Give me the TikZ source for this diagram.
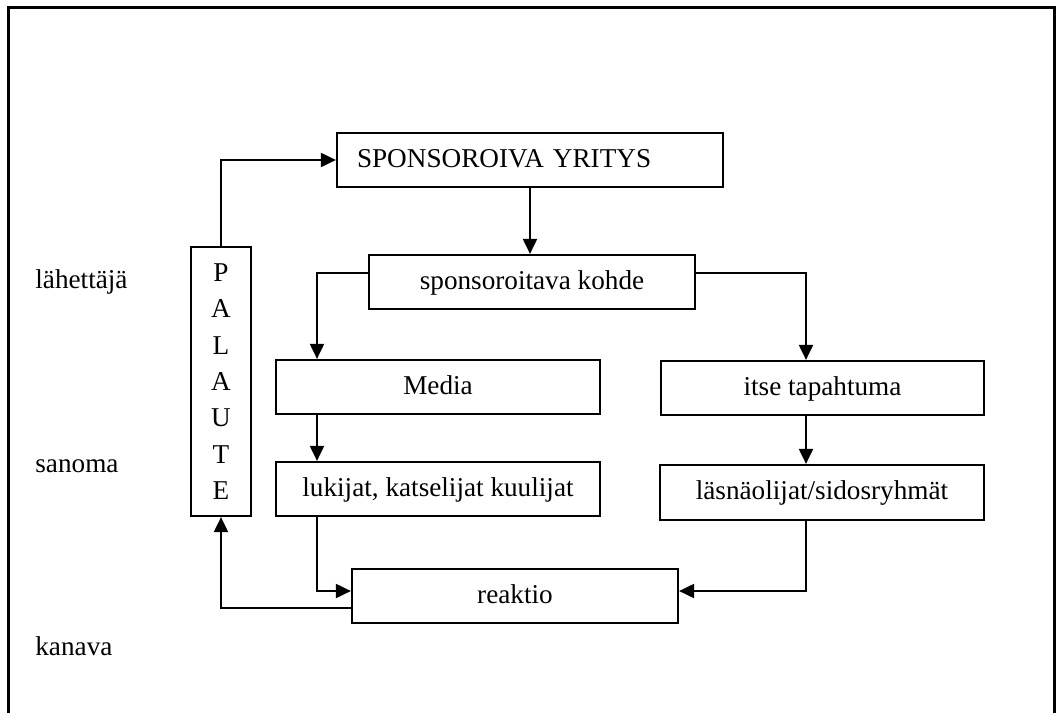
\documentclass[tikz,border=0pt]{standalone}
\usepackage{fontspec}
\setmainfont{Liberation Serif}
\usetikzlibrary{arrows.meta}
\begin{document}
\begin{tikzpicture}[x=0.5pt,y=-0.5pt,
  txt/.style={font=\fontsize{13.6}{16}\selectfont},
  box/.style={txt, draw, line width=1.1pt, inner sep=0pt, text height=9pt, text depth=2pt},
  arr/.style={line width=1pt, -{Triangle[length=7.5pt,width=7pt]}},
  conn/.style={line width=1pt},
  lbl/.style={txt, anchor=base west, inner sep=0pt}]
\useasboundingbox (0,0) rectangle (1057,713);
\draw[line width=1.5pt] (8,713) -- (8,7) -- (1054,7) -- (1054,713);

\node[box, minimum width=193pt, minimum height=27pt, text width=173pt, inner xsep=10pt, align=left] (spo) at (530,160) {SPONSOROIVA YRITYS};
\node[txt, draw, line width=1.1pt, inner sep=0pt, minimum width=30pt, minimum height=134.5pt, align=center, font=\fontsize{13.6}{18.2}\selectfont] (pal) at (221,381.5) {P\\A\\L\\A\\U\\T\\E};
\node[box, minimum width=163pt, minimum height=27pt] (kohde) at (532,282) {sponsoroitava kohde};
\node[box, minimum width=162pt, minimum height=27pt] (media) at (438,387) {Media};
\node[box, minimum width=162pt, minimum height=27pt] (luk) at (438,489) {lukijat, katselijat kuulijat};
\node[box, minimum width=161.5pt, minimum height=27pt] (tap) at (822.5,388) {itse tapahtuma};
\node[box, minimum width=162pt, minimum height=27.5pt] (las) at (822,492.5) {läsnäolijat/sidosryhmät};
\node[box, minimum width=163pt, minimum height=27pt] (reak) at (515,596) {reaktio};

\node[lbl] (l1) at (35,288) {lähettäjä};
\node[lbl] (l2) at (35,472) {sanoma};
\node[lbl] (l3) at (35,655) {kanava};

\coordinate (cL) at (317,0);
\coordinate (cR) at (806,0);

\draw[arr] (pal.north) |- (spo.west);
\draw[arr] (spo.south) -- (spo.south |- kohde.north);
\draw[arr] ([yshift=4.5pt]kohde.west) -| (media.north -| cL);
\draw[arr] ([yshift=4.5pt]kohde.east) -| (tap.north -| cR);
\draw[arr] (media.south -| cL) -- (luk.north -| cL);
\draw[arr] (tap.south -| cR) -- (las.north -| cR);
\draw[arr] (luk.south -| cL) |- ([yshift=2.5pt]reak.west);
\draw[arr] (las.south -| cR) |- ([yshift=2.5pt]reak.east);
\draw[arr] ([yshift=-6pt]reak.west) -| (pal.south);
\end{tikzpicture}
\end{document}
